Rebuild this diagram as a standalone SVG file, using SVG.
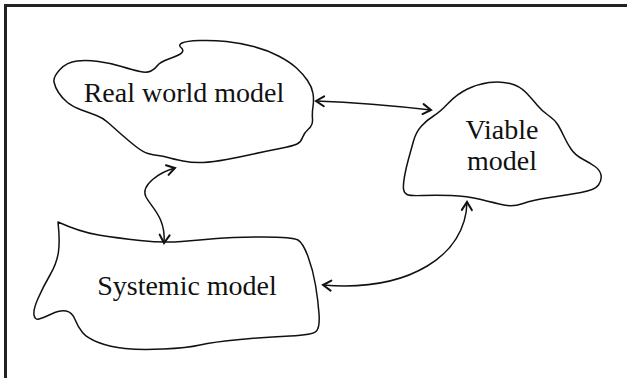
<svg xmlns="http://www.w3.org/2000/svg" width="627" height="378" viewBox="0 0 627 378">
<style>
.blob{fill:#fff;stroke:#111;stroke-width:1.5;stroke-linejoin:round}
.lbl{font-family:"Liberation Serif","Times New Roman",serif;font-size:28px;fill:#111;text-anchor:middle}
.con{fill:none;stroke:#111;stroke-width:1.5;marker-start:url(#ah);marker-end:url(#ah)}
</style>
<defs>
<marker id="ah" markerUnits="userSpaceOnUse" markerWidth="14" markerHeight="14" refX="0" refY="0" viewBox="-10 -7 12 14" orient="auto-start-reverse" overflow="visible">
<path d="M -8,-5 L 0,0 L -8,5" fill="none" stroke="#111" stroke-width="2" stroke-linecap="round" stroke-linejoin="miter"/>
</marker>
</defs>
<rect width="627" height="378" fill="#fff"/>
<path d="M 5.5,378 L 5.5,5.5 L 627,5.5" fill="none" stroke="#222" stroke-width="3"/>
<g id="real-world-model">
<path class="blob" d="M 60,69.5 Q 67,62 77,61 Q 87,60 98.5,61.5 Q 110,63 121.5,66.5 Q 133,70 140,71.5 Q 147,73 151,71 Q 155,69 157.5,65.5 Q 160,62 170,58.5 Q 180,55 182,52.5 Q 184,50 181,47.5 Q 178,45 182,43 Q 186,41 199.5,40.5 Q 213,40 226.5,41.5 Q 240,43 253.5,46.5 Q 267,50 278.5,56 Q 290,62 296.5,68 Q 303,74 307.5,80.5 Q 312,87 313,93.5 Q 314,100 313,106.5 Q 312,113 312.5,119 Q 313,125 308.5,129 Q 304,133 302.5,137.5 Q 301,142 297,144 Q 293,146 280,148.5 Q 267,151 253.5,154 Q 240,157 226.5,159.5 Q 213,162 203,162.5 Q 193,163 183,161 Q 173,159 168,157.5 Q 163,156 158,155.5 Q 153,155 148,153.5 Q 143,152 136.5,147 Q 130,142 121.5,134.5 Q 113,127 108,122.5 Q 103,118 96.5,115.5 Q 90,113 81.5,110 Q 73,107 67.5,102.5 Q 62,98 58.5,92.5 Q 55,87 54,82 Q 53,77 60,69.5 Z"/>
<text class="lbl" x="184" y="102">Real world model</text>
</g>
<g id="viable-model">
<path class="blob" d="M 404.5,176.5 Q 406,168 408.5,159 Q 411,150 413.5,141 Q 416,132 421.5,126 Q 427,120 433.5,116 Q 440,112 448.5,103 Q 457,94 467.5,89 Q 478,84 489,82.5 Q 500,81 510,83.5 Q 520,86 526.5,93 Q 533,100 537.5,105.5 Q 542,111 548.5,115.5 Q 555,120 558,125 Q 561,130 564,136.5 Q 567,143 571,149 Q 575,155 582.5,159 Q 590,163 595,166.5 Q 600,170 601,175 Q 602,180 598.5,185 Q 595,190 581,192.5 Q 567,195 550,197.5 Q 533,200 523,203.5 Q 513,207 504,205 Q 495,203 481,199.5 Q 467,196 451,195.5 Q 435,195 422.5,195.5 Q 410,196 407,194.5 Q 404,193 403.5,189 Q 403,185 404.5,176.5 Z"/>
<text class="lbl" x="502" y="139">Viable</text>
<text class="lbl" x="502" y="170">model</text>
</g>
<g id="systemic-model">
<path class="blob" d="M 58,222 Q 80,232 98.5,235 Q 117,238 140,240.5 Q 163,243 181.5,241.5 Q 200,240 216.5,238.5 Q 233,237 263,237 Q 293,237 298,240 Q 303,243 308,256.5 Q 313,270 315.5,285 Q 318,300 319,313.5 Q 320,327 316.5,331 Q 313,335 290,336 Q 267,337 240,339.5 Q 213,342 200,345 Q 187,348 163.5,349 Q 140,350 125,348.5 Q 110,347 98.5,342.5 Q 87,338 82.5,332.5 Q 78,327 75,319.5 Q 72,312 66,311 Q 60,310 51.5,314 Q 43,318 39,319 Q 35,320 34,315 Q 33,310 38,298.5 Q 43,287 50,275 Q 57,263 58.5,251.5 Q 60,240 58,222 Z"/>
<text class="lbl" x="187" y="295">Systemic model</text>
</g>
<g id="connectors">
<path class="con" d="M 316,101 Q 370,103 431,110"/>
<path class="con" d="M 175,168 C 160,172 140,185 146,197 C 152,208 166,218 164,243"/>
<path class="con" d="M 467,202 C 466,255 410,292 323,285"/>
</g>
</svg>
